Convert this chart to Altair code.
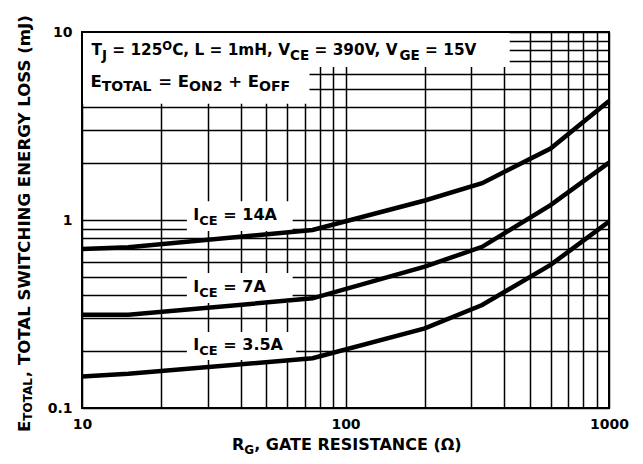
import altair as alt
import pandas as pd

# ---------------- data ----------------
RG = [10, 15, 75, 200, 330, 600, 1000]                      # gate resistance (ohm)
E_14A = [0.70, 0.716, 0.885, 1.27, 1.57, 2.40, 4.30]        # mJ
E_7A = [0.313, 0.313, 0.383, 0.565, 0.72, 1.20, 2.02]
E_3_5A = [0.147, 0.152, 0.184, 0.265, 0.353, 0.577, 0.98]
SERIES = ["14A", "7A", "3.5A"]

GRID_X = [10, 20, 30, 40, 50, 60, 70, 80, 90, 100,
          200, 300, 400, 500, 600, 700, 800, 900, 1000]
GRID_Y = [0.1, 0.2, 0.3, 0.4, 0.5, 0.6, 0.7, 0.8, 0.9, 1,
          2, 3, 4, 5, 6, 7, 8, 9, 10]
X_TICKS = [10, 100, 1000]
X_TICK_TEXT = ["10", "100", "1000"]
Y_TICKS = [0.1, 1, 10]
Y_TICK_TEXT = ["0.1", "1", "10"]

# curve labels (I_CE = ...) : anchor in data units
LABEL_X = 25
LABEL_Y = [1.0, 0.416, 0.204]
LABEL_VALUE = [" = 14A", " = 7A", " = 3.5A"]

# white label boxes (data units)
BOX_X1 = [10, 10, 25, 25, 25]
BOX_X2 = [420, 73, 63, 63, 65]
BOX_Y1 = [10, 6.52, 1.26, 0.523, 0.2535]
BOX_Y2 = [6.52, 4.15, 0.874, 0.362, 0.180]

FONT = "DejaVu Sans"
W, H = 527, 376

# ---------------- helpers ----------------
CW = {' ': 348, '(': 457, ')': 457, '+': 838, ',': 380, '.': 380, '=': 838,
      '0': 696, '1': 696, '2': 696, '3': 696, '4': 696, '5': 696, '6': 696,
      '7': 696, '8': 696, '9': 696, 'A': 774, 'C': 734, 'E': 683, 'F': 575,
      'G': 821, 'H': 837, 'I': 372, 'J': 372, 'L': 637, 'N': 837, 'O': 850,
      'R': 770, 'S': 720, 'T': 682, 'V': 774, 'W': 1103, 'Y': 724, 'm': 1042,
      '\u03a9': 843}


def tw(s, size):
    return sum(CW.get(c, 700) for c in s) * size / 1000.0


XS = alt.Scale(type="log", domain=[10, 1000])
YS = alt.Scale(type="log", domain=[0.1, 10])


def expr_for(vals, texts):
    e = "''"
    for v, t in zip(reversed(vals), reversed(texts)):
        e = f"datum.value == {v} ? '{t}' : ({e})"
    return e


XAXIS = alt.Axis(values=GRID_X, grid=True, gridColor="black", gridWidth=1.5,
                 gridOpacity=1, ticks=False, domain=False, title=None,
                 labelExpr=expr_for(X_TICKS, X_TICK_TEXT), labelFlush=False,
                 labelOverlap=False, labelFont=FONT, labelFontWeight="bold",
                 labelFontSize=14, labelColor="black", labelPadding=9)
YAXIS = alt.Axis(values=GRID_Y, grid=True, gridColor="black", gridWidth=1.5,
                 gridOpacity=1, ticks=False, domain=False, title=None,
                 labelExpr=expr_for(Y_TICKS, Y_TICK_TEXT), labelOverlap=False,
                 labelFont=FONT, labelFontWeight="bold", labelFontSize=14,
                 labelColor="black", labelPadding=10)


def X(f):
    return alt.X(f, scale=XS, axis=XAXIS)


def Y(f):
    return alt.Y(f, scale=YS, axis=YAXIS)


ONE = pd.DataFrame({"a": [0]})


def rich(segs, enc, dx0=0.0, angle=0):
    """Lay out text pieces (normal / sub / superscript) one after another."""
    out = []
    off = 0.0
    for text, size, shift in segs:
        lead = len(text) - len(text.lstrip(" "))
        off += tw(" " * lead, size)
        core = text.strip(" ")
        kw = dict(text=core, font=FONT, fontWeight="bold", fontSize=size,
                  align="left", baseline="alphabetic", dx=dx0 + off, dy=shift,
                  color="black")
        if angle:
            kw["angle"] = angle
        out.append(alt.Chart(ONE).mark_text(**kw).encode(**enc))
        off += tw(text.lstrip(" "), size)
    return out


# ---------------- layers ----------------
curves = pd.DataFrame({
    "rg": RG * 3,
    "e": E_14A + E_7A + E_3_5A,
    "series": sum([[s] * len(RG) for s in SERIES], []),
})

boxes = pd.DataFrame({"x1": BOX_X1, "x2": BOX_X2, "y1": BOX_Y1, "y2": BOX_Y2})

box_layer = alt.Chart(boxes).mark_rect(color="white").encode(
    x=X("x1:Q"), x2="x2:Q", y=Y("y1:Q"), y2="y2:Q")

line_layer = alt.Chart(curves).mark_line(color="black", strokeWidth=4.5).encode(
    x=X("rg:Q"), y=Y("e:Q"), detail="series:N")

frame = alt.Chart(pd.DataFrame({"x1": [GRID_X[0]], "x2": [GRID_X[-1]],
                                "y1": [GRID_Y[0]], "y2": [GRID_Y[-1]]})).mark_rect(
    filled=False, color="black", strokeWidth=2).encode(
    x=X("x1:Q"), x2="x2:Q", y=Y("y1:Q"), y2="y2:Q")

texts = []
# condition line
texts += rich([("T", 15.3, 0), ("J", 13.5, 5), (" = 125", 15.3, 0), ("O", 11.5, -5),
               ("C, L = 1mH, V", 15.3, 0), ("CE", 13.5, 5), (" = 390V, V", 15.3, 0),
               ("GE", 13.5, 5), (" = 15V", 15.3, 0)],
              dict(x=alt.XDatum(10, type="quantitative", scale=XS),
                   y=alt.YDatum(7.55, type="quantitative", scale=YS)), dx0=9.5)
texts += rich([("E", 16.5, 0), ("TOTAL", 14, 4), (" = E", 16.5, 0), ("ON2", 14, 4),
               (" + E", 16.5, 0), ("OFF", 14, 4)],
              dict(x=alt.XDatum(10, type="quantitative", scale=XS),
                   y=alt.YDatum(5.08, type="quantitative", scale=YS)), dx0=8.5)
for ly, lv in zip(LABEL_Y, LABEL_VALUE):
    texts += rich([("I", 16, 0), ("CE", 13, 5), (lv, 16, 0)],
                  dict(x=alt.XDatum(LABEL_X, type="quantitative", scale=XS),
                       y=alt.YDatum(ly, type="quantitative", scale=YS)), dx0=6.5)

# axis titles
xt = [("R", 16, 0), ("G", 12, 3.5), (", GATE RESISTANCE (\u03a9)", 16, 0)]
xt_w = sum(tw(t, s) for t, s, _ in xt)
texts += rich(xt, dict(x=alt.value(266 - xt_w / 2), y=alt.value(418)))
yt = [("E", 16.6, 0), ("TOTAL", 12, 2),
      (", TOTAL SWITCHING ENERGY LOSS (mJ)", 16.6, 0)]
texts += rich(yt, dict(x=alt.value(-52), y=alt.value(400)), angle=270)

chart = alt.layer(box_layer, line_layer, frame, *texts).properties(
    width=W, height=H,
    autosize=alt.AutoSizeParams(type="none"),
    padding={"left": 74, "top": 24, "right": 26, "bottom": 48},
).configure_view(stroke=None)

chart.save("out.html", embed_options={"renderer": "svg", "actions": False})
